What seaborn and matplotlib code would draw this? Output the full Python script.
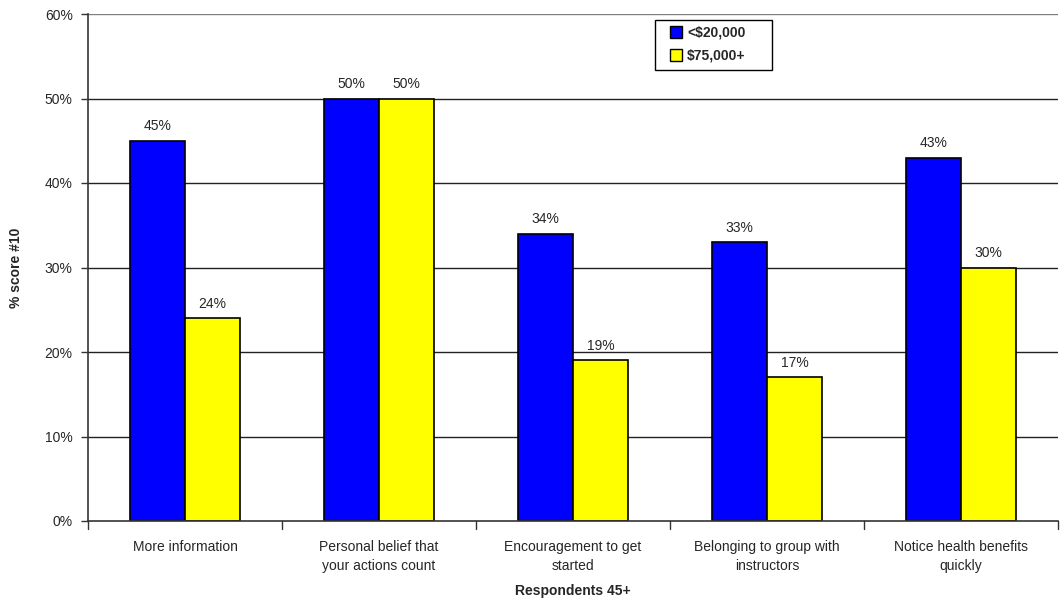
import matplotlib
matplotlib.use("Agg")
import matplotlib.pyplot as plt
import seaborn as sns
import pandas as pd
from matplotlib.patches import Patch, Rectangle

categories = [
    "More information",
    "Personal belief that\nyour actions count",
    "Encouragement to get\nstarted",
    "Belonging to group with\ninstructors",
    "Notice health benefits\nquickly",
]
series_names = ["<$20,000", "$75,000+"]
low_income = [45, 50, 34, 33, 43]
high_income = [24, 50, 19, 17, 30]
y_ticks = [0, 10, 20, 30, 40, 50, 60]

df = pd.DataFrame({
    "category": categories * 2,
    "group": [series_names[0]] * len(categories) + [series_names[1]] * len(categories),
    "value": low_income + high_income,
})

sns.set_theme(style="white")
plt.rcParams["font.family"] = ["Liberation Sans", "DejaVu Sans"]

W, H = 1061, 607
fig = plt.figure(figsize=(W / 100, H / 100), dpi=100)
ax = fig.add_axes([88 / W, 1 - 521 / H, 970 / W, 507 / H])

palette = {series_names[0]: "#0000FF", series_names[1]: "#FFFF00"}
sns.barplot(data=df, x="category", y="value", hue="group", hue_order=series_names,
            order=categories, palette=palette, width=0.57, edgecolor="black",
            linewidth=1.2, saturation=1, ax=ax, legend=False, zorder=3)

ax.set_ylim(0, 60)
ax.set_xlim(-0.5, len(categories) - 0.5)
ax.set_yticks(y_ticks)
ax.set_yticklabels([f"{t}%" for t in y_ticks], fontsize=10)
for t in y_ticks[1:]:
    ax.axhline(t, color="#222222" if t < 60 else "#808080", linewidth=1, zorder=1)

ax.set_xticks(range(len(categories)))
ax.set_xticklabels(categories, fontsize=10, linespacing=1.38)
ax.tick_params(axis="x", length=0, pad=14)
ax.tick_params(axis="y", length=5, left=True, direction="out", color="#333333", width=1, pad=6)
# separator ticks between categories
for b in [i - 0.5 for i in range(len(categories) + 1)]:
    ax.plot([b, b], [0, -0.9], color="#333333", linewidth=1, clip_on=False, zorder=4)

for side in ["top", "right"]:
    ax.spines[side].set_visible(False)
for side in ["left", "bottom"]:
    ax.spines[side].set_color("#333333")
    ax.spines[side].set_linewidth(1.2)
    ax.spines[side].set_zorder(5)

# value labels above each bar
for container in ax.containers:
    ax.bar_label(container, labels=[f"{v:.0f}%" for v in container.datavalues],
                 padding=5.5, fontsize=10)

ax.set_xlabel("Respondents 45+", fontsize=10, fontweight="bold", labelpad=8)
ax.set_ylabel("% score #10", fontsize=10, fontweight="bold", labelpad=16)

# legend box
fig.add_artist(Rectangle((655 / W, 1 - 70 / H), 117 / W, 50 / H, transform=fig.transFigure,
                         facecolor="white", edgecolor="black", linewidth=1, zorder=6))
handles = [Patch(facecolor=palette[n], edgecolor="black", linewidth=1) for n in series_names]
leg = fig.legend(handles, series_names, loc="upper left",
                 bbox_to_anchor=(656 / W, 1 - 12 / H), bbox_transform=fig.transFigure,
                 frameon=False, prop={"weight": "bold", "size": 10},
                 handlelength=0.9, handleheight=0.9, handletextpad=0.35,
                 borderpad=0.5, labelspacing=0.65)
leg.set_zorder(7)

fig.savefig("out.png", dpi=100, facecolor="white")
